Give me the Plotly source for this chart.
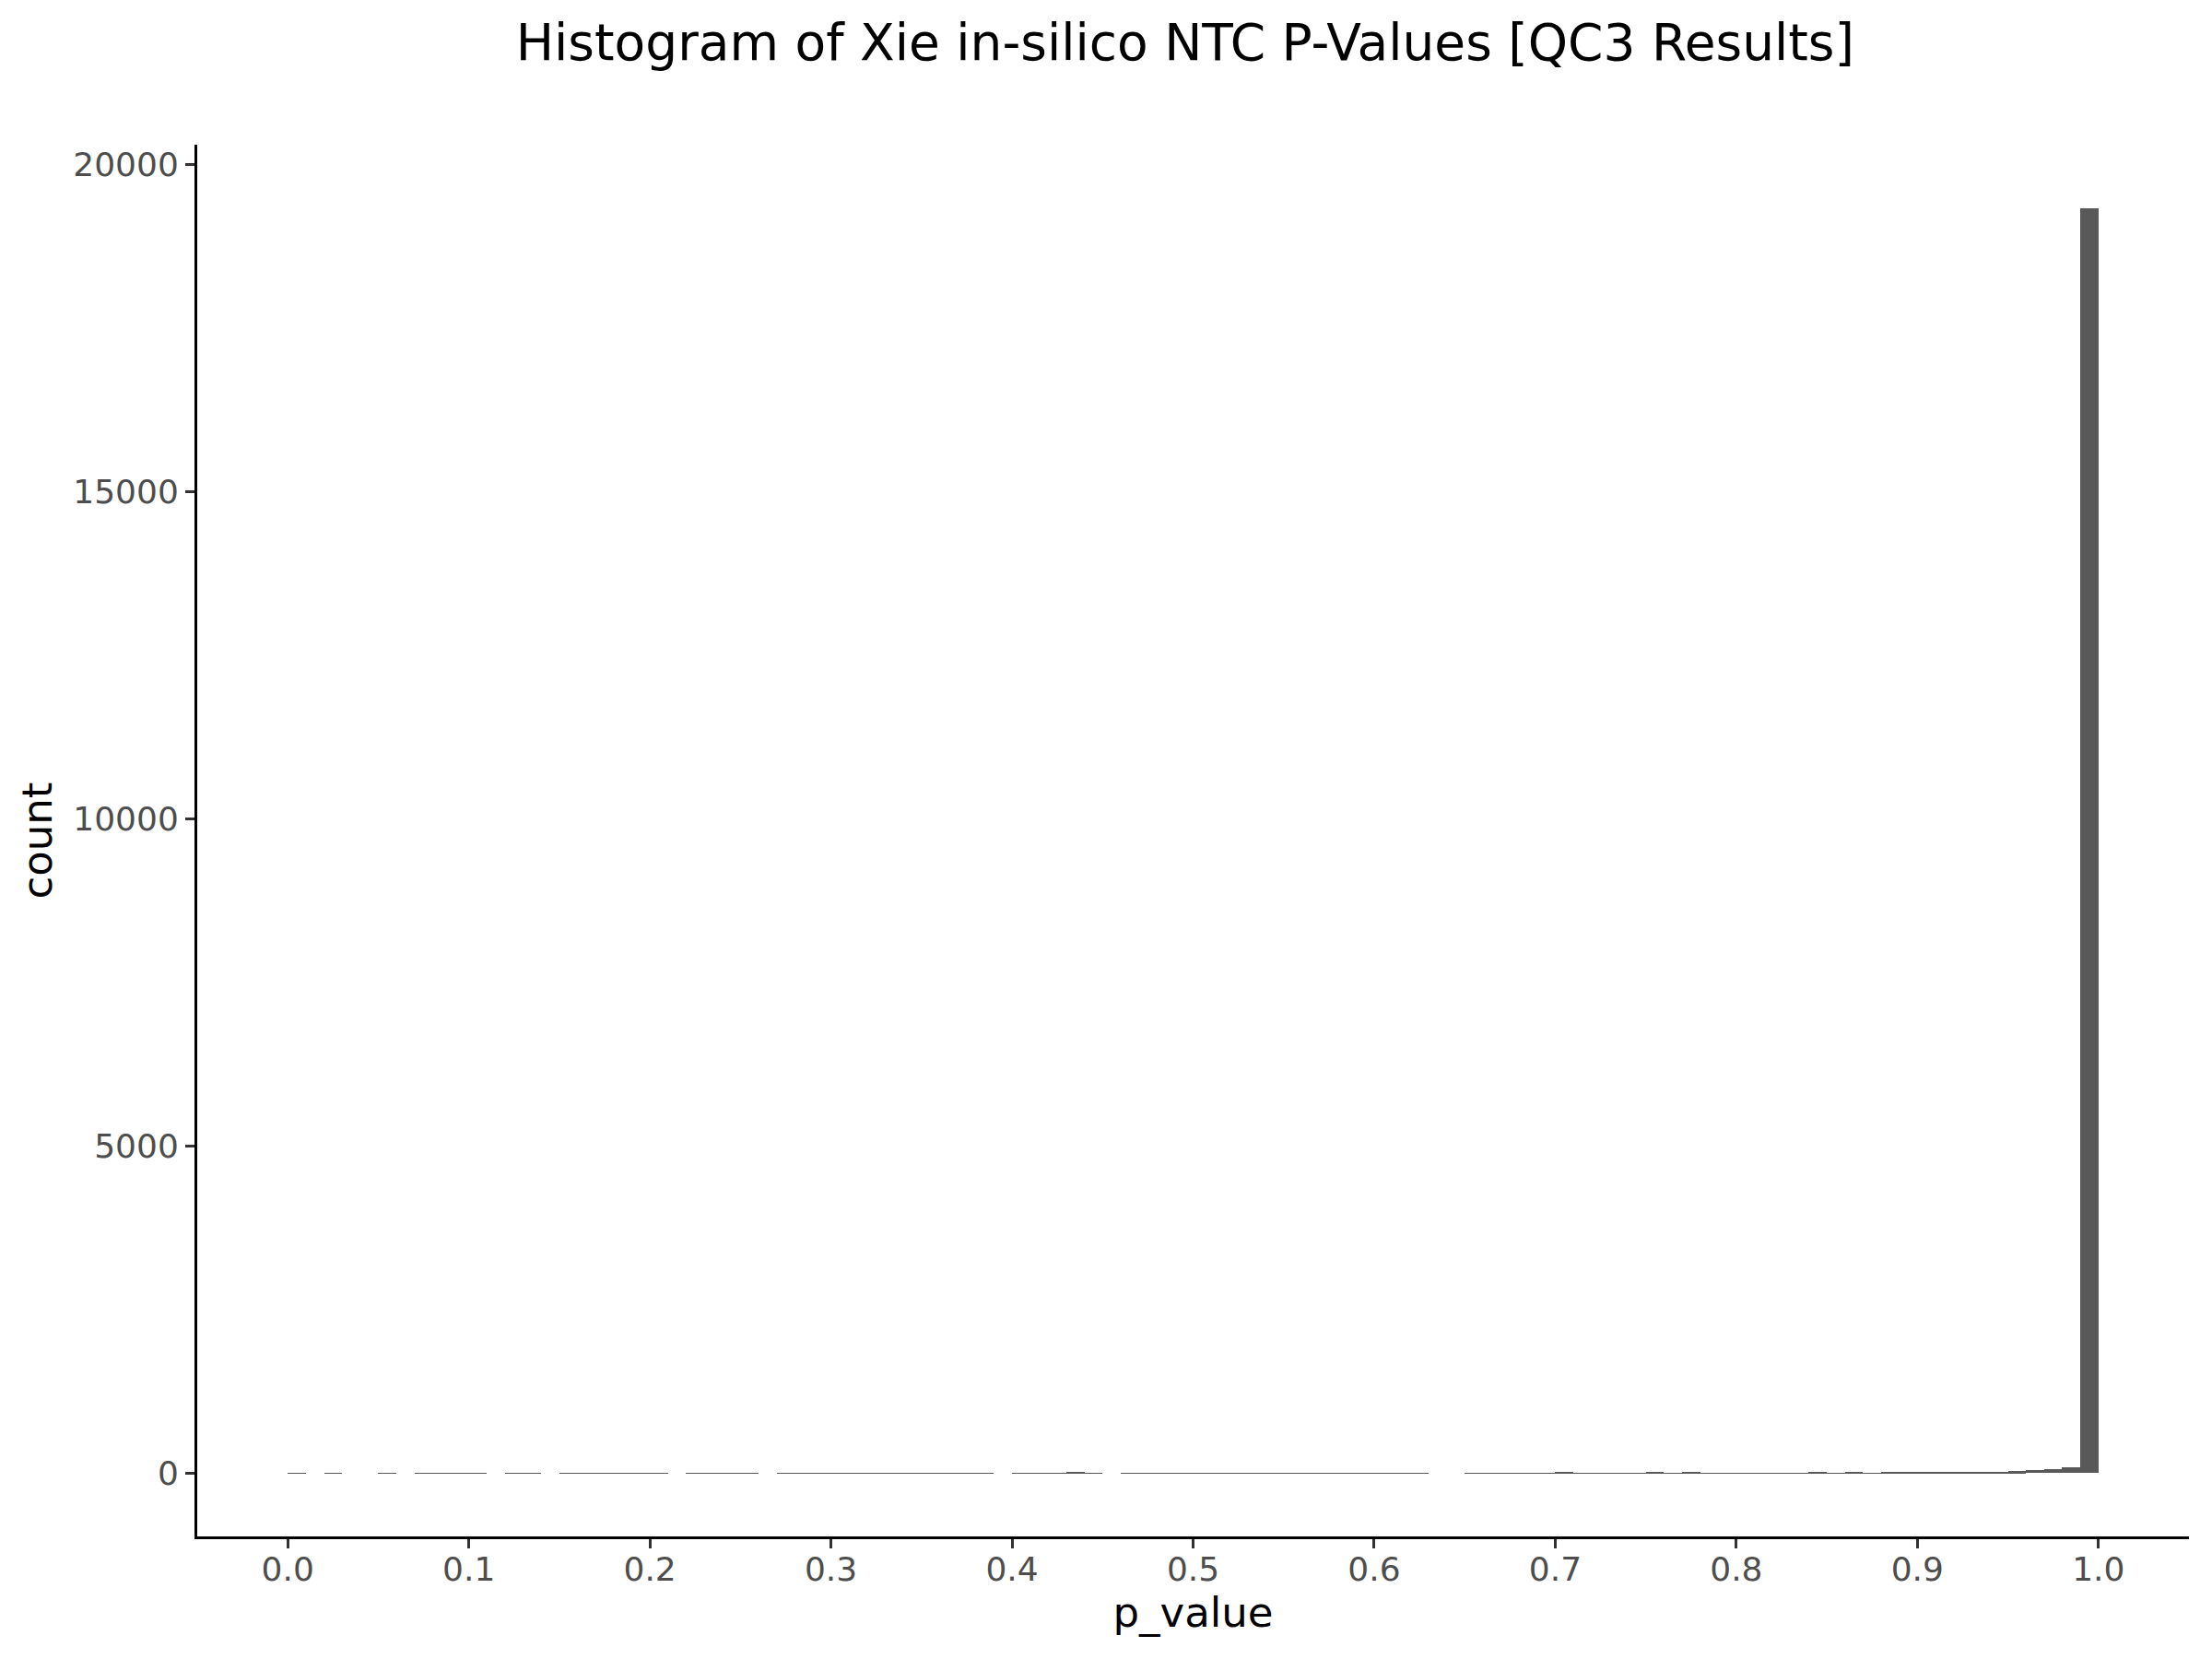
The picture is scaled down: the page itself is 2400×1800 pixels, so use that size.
import numpy as np
import plotly.graph_objects as go

# Histogram counts, bin width 0.01 from 0.0 to 1.0 (100 bins)
counts = [
    2, 0, 2, 0, 0, 1, 0, 1, 4, 2,
    4, 0, 4, 2, 0, 2, 1, 1, 2, 1,
    1, 0, 2, 4, 1, 2, 0, 2, 2, 1,
    1, 1, 2, 4, 1, 5, 4, 2, 4, 0,
    1, 3, 1, 8, 1, 0, 2, 2, 4, 1,
    2, 1, 2, 2, 1, 4, 2, 2, 1, 2,
    1, 4, 2, 0, 0, 2, 1, 2, 1, 3,
    7, 3, 2, 3, 3, 7, 2, 10, 3, 2,
    3, 3, 3, 4, 8, 4, 7, 4, 8, 9,
    9, 14, 14, 15, 16, 28, 42, 60, 88, 19333,
]
bin_width = 0.01
bin_start = 0.0

x_ticks = [0.0, 0.1, 0.2, 0.3, 0.4, 0.5, 0.6, 0.7, 0.8, 0.9, 1.0]
y_ticks = [0, 5000, 10000, 15000, 20000]

title_text = "Histogram of Xie in-silico NTC P-Values [QC3 Results]"
x_title = "p_value"
y_title = "count"

centers = bin_start + bin_width * (np.arange(len(counts)) + 0.5)
ymax = max(counts)

fig = go.Figure(
    go.Bar(
        x=centers,
        y=counts,
        width=bin_width,
        marker=dict(color="#595959", line=dict(width=0)),
        showlegend=False,
    )
)

font_family = "DejaVu Sans"

fig.update_layout(
    width=2400,
    height=1800,
    paper_bgcolor="white",
    plot_bgcolor="white",
    bargap=0,
    margin=dict(l=206, r=33, t=149, b=141),
    font=dict(family=font_family, color="#4D4D4D"),
    title=dict(
        text=title_text,
        x=0.496,
        xref="paper",
        xanchor="center",
        y=1 - 38 / 1800,
        yref="container",
        yanchor="middle",
        font=dict(size=55, color="black", family=font_family),
    ),
)

fig.update_xaxes(
    range=[-0.05, 1.05],
    tickvals=x_ticks,
    tickformat=".1f",
    showgrid=False,
    zeroline=False,
    showline=True,
    linecolor="black",
    linewidth=3,
    ticks="outside",
    ticklen=10,
    tickwidth=3,
    tickcolor="#333333",
    ticklabelstandoff=-8,
    tickfont=dict(size=36, color="#4D4D4D", family=font_family),
    title=dict(text=x_title, font=dict(size=45, color="black", family=font_family), standoff=12),
    automargin=False,
)

fig.update_yaxes(
    range=[-0.05 * ymax, 1.05 * ymax],
    tickvals=y_ticks,
    tickformat="d",
    showgrid=False,
    zeroline=False,
    showline=True,
    linecolor="black",
    linewidth=3,
    ticks="outside",
    ticklen=10,
    tickwidth=3,
    tickcolor="#333333",
    tickfont=dict(size=36, color="#4D4D4D", family=font_family),
    title=dict(text=y_title, font=dict(size=45, color="black", family=font_family), standoff=9),
    automargin=False,
)

fig.write_html("out.html")
